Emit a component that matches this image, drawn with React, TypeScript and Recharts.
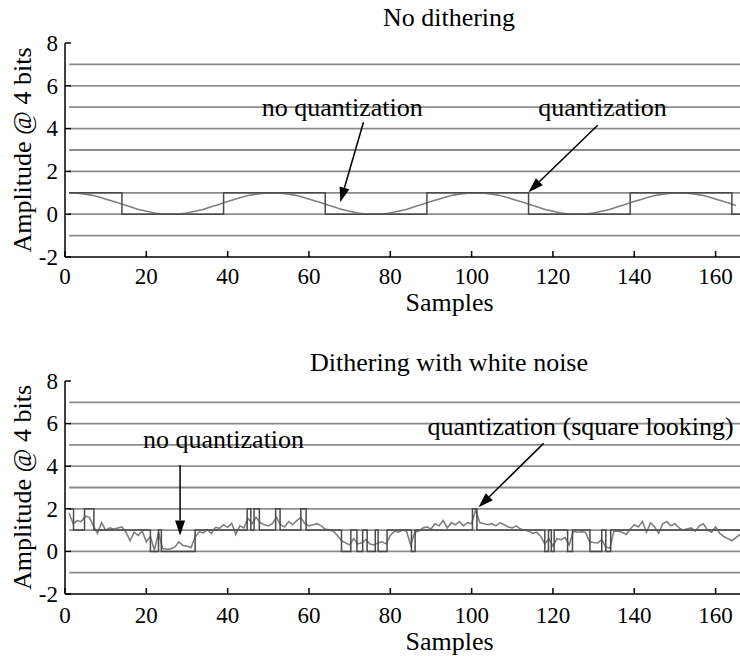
import { LineChart, Line, XAxis, YAxis, ReferenceLine, ReferenceDot } from 'recharts';

const xTicks = [0, 20, 40, 60, 80, 100, 120, 140, 160];
const yTicks = [-2, 0, 2, 4, 6, 8];
const levels = [-1, 0, 1, 2, 3, 4, 5, 6, 7];

// clean input, read every 2nd sample starting at sample 1
const cleanStart = 1;
const cleanStep = 2;
const cleanSignal = [
  1.0, 0.98, 0.94, 0.87, 0.77, 0.65, 0.53, 0.41, 0.29, 0.18, 0.1, 0.03, 0.0, 0.0, 0.03, 0.1, 0.18, 0.29, 0.41, 0.53, 0.65, 0.77, 0.87, 0.94, 0.98,
  1.0, 0.98, 0.94, 0.87, 0.77, 0.65, 0.53, 0.41, 0.29, 0.18, 0.1, 0.03, 0.0, 0.0, 0.03, 0.1, 0.18, 0.29, 0.41, 0.53, 0.65, 0.77, 0.87, 0.94, 0.98,
  1.0, 0.98, 0.94, 0.87, 0.77, 0.65, 0.53, 0.41, 0.29, 0.18, 0.1, 0.03, 0.0, 0.0, 0.03, 0.1, 0.18, 0.29, 0.41, 0.53, 0.65, 0.77, 0.87, 0.94, 0.98,
  1.0, 0.98, 0.94, 0.87, 0.77, 0.65, 0.53, 0.41,
];

// quantized (no dither): sample where each level starts
const quantCleanX = [1, 14, 39, 64, 89, 114, 139, 164, 166];
const quantCleanY = [1, 0, 1, 0, 1, 0, 1, 0, 0];

// dithered input, one value per sample (1..166)
const ditheredSignal = [
  1.8, 1.3, 1.45, 1.4, 1.65, 1.6, 1.2, 0.85, 1.35, 1.0,
  1.1, 1.05, 1.1, 1.15, 0.9, 0.5, 0.9, 0.75, 0.95, 0.45,
  0.7, 0.05, 0.9, 0.13, 0.1, 0.12, 0.2, 0.45, 0.28, 0.24,
  0.18, 0.68, 0.92, 0.87, 1.03, 0.84, 1.13, 1.08, 1.25, 1.13,
  1.32, 0.8, 1.2, 1.1, 1.55, 1.3, 1.6, 1.35, 1.25, 1.2,
  1.3, 1.6, 1.25, 1.15, 1.4, 1.25, 1.45, 1.6, 1.3, 1.2,
  1.25, 1.3, 1.2, 1.05, 1.0, 0.95, 0.75, 0.5, 0.4, 0.3,
  0.6, 0.35, 0.4, 0.55, 0.35, 0.3, 0.4, 0.45, 0.35, 0.75,
  0.95, 0.9, 1.0, 0.95, 0.3, 0.9, 0.95, 1.1, 1.15, 1.05,
  1.3, 1.2, 1.45, 1.1, 1.35, 1.25, 1.4, 1.2, 1.35, 1.3,
  1.95, 1.35, 1.3, 1.25, 1.3, 1.2, 1.35, 1.25, 1.15, 1.1,
  1.2, 1.05, 1.0, 0.95, 0.85, 0.9, 0.7, 0.35, 0.6, 0.25,
  0.6, 0.55, 0.65, 0.3, 0.95, 0.9, 0.92, 0.9, 0.45, 0.42,
  0.4, 0.55, 0.2, 0.15, 0.95, 0.95, 0.9, 0.8, 1.05, 1.25,
  1.15, 1.4, 0.9, 1.35, 1.15, 0.85, 1.3, 1.4, 1.2, 1.3,
  1.1, 1.0, 1.05, 1.1, 0.95, 1.2, 1.3, 1.0, 0.9, 1.15,
  0.85, 0.7, 0.6, 0.5, 0.65, 0.8,
];

// quantized (dithered): sample where each level starts
const quantDitherX = [
  1, 2.1, 4.8, 7.1, 21.0, 23.0, 23.7, 32.0, 44.8, 45.7, 46.5, 47.8, 51.8, 52.9, 58.0, 59.3,
  68.0, 70.3, 71.8, 73.2, 74.3, 76.3, 77.0, 79.2, 85.2, 86.1, 100.2, 101.3,
  118.0, 118.9, 119.6, 120.3, 123.6, 124.8, 129.1, 132.0, 133.0, 134.2, 166,
];
const quantDitherY = [
  2, 1, 2, 1, 0, 1, 0, 1, 2, 1, 2, 1, 2, 1, 2, 1,
  0, 1, 0, 1, 0, 1, 0, 1, 0, 1, 2, 1,
  0, 1, 0, 1, 0, 1, 0, 1, 0, 1, 1,
];

const topNotes = [
  { text: 'no quantization', x: 68.2, y: 4.6, from: [73.4, 4.3], to: [67.7, 0.56] },
  { text: 'quantization', x: 132.2, y: 4.6, from: [131, 4.16], to: [114, 1.03] },
];
const bottomNotes = [
  { text: 'no quantization', x: 39.0, y: 4.84, from: [28.3, 4.04], to: [28.3, 0.75] },
  { text: 'quantization (square looking)', x: 126.8, y: 5.45, from: [117.7, 5.07], to: [101.7, 2.07] },
];

const cleanData = cleanSignal.map((v, i) => ({ x: cleanStart + i * cleanStep, y: v }));
const quantCleanData = quantCleanX.map((x, i) => ({ x, y: quantCleanY[i] }));
const ditherData = ditheredSignal.map((v, i) => ({ x: i + 1, y: v }));
const quantDitherData = quantDitherX.map((x, i) => ({ x, y: quantDitherY[i] }));

const FONT = '"Liberation Serif", "Times New Roman", serif';

const XTick = (p: any) => (
  <text x={p.x} y={p.y} dy="0.71em" textAnchor="middle" fontSize={23} fill="#000" fontFamily={FONT}>
    {p.payload.value}
  </text>
);

const YTick = (p: any) => (
  <text x={p.x} y={p.y} dy="0.34em" textAnchor="end" fontSize={23} fill="#000" fontFamily={FONT}>
    {p.payload.value}
  </text>
);

const xLabel = (offset: number) => (p: any) => {
  const vb = p.viewBox;
  return (
    <text x={vb.x + vb.width / 2 + 47} y={vb.y + vb.height - offset} textAnchor="middle" fontSize={26} fill="#000" fontFamily={FONT}>
      Samples
    </text>
  );
};

const yLabel = (p: any) => {
  const vb = p.viewBox;
  const cx = 22;
  const cy = vb.y + vb.height / 2;
  return (
    <text x={cx} y={cy} dy="0.34em" textAnchor="middle" fontSize={26} fill="#000" fontFamily={FONT} transform={`rotate(-90, ${cx}, ${cy})`}>
      Amplitude @ 4 bits
    </text>
  );
};

const Arrow = (props: any) => {
  const { x1, y1, x2, y2 } = props;
  const dx = x2 - x1;
  const dy = y2 - y1;
  const len = Math.hypot(dx, dy) || 1;
  const ux = dx / len;
  const uy = dy / len;
  const head = 15;
  const half = 5;
  const bx = x2 - ux * head;
  const by = y2 - uy * head;
  const pts = `${x2},${y2} ${bx - uy * half},${by + ux * half} ${bx + uy * half},${by - ux * half}`;
  return (
    <g>
      <line x1={x1} y1={y1} x2={bx} y2={by} stroke="#000" strokeWidth={1.5} />
      <polygon points={pts} fill="#000" />
    </g>
  );
};

const noteText = (text: string) => (p: any) => (
  <text x={p.cx} y={p.cy} textAnchor="middle" fontSize={26} fill="#000" fontFamily={FONT}>
    {text}
  </text>
);

interface PanelProps {
  top: number;
  height: number;
  plotTop: number;
  plotBottom: number;
  tickMargin: number;
  labelOffset: number;
  signal: { x: number; y: number }[];
  quant: { x: number; y: number }[];
  notes: typeof topNotes;
  smooth: boolean;
}

const Panel = ({ top, height, plotTop, plotBottom, tickMargin, labelOffset, signal, quant, notes, smooth }: PanelProps) => (
  <div style={{ position: 'absolute', left: 0, top }}>
    <LineChart width={740} height={height} margin={{ top: plotTop, right: 0, bottom: 0, left: 0 }}>
      <XAxis
        type="number"
        dataKey="x"
        domain={[0, 166]}
        ticks={xTicks}
        interval={0}
        allowDataOverflow
        height={height - plotBottom}
        tickSize={-6}
        tickMargin={tickMargin}
        stroke="#000"
        axisLine={{ stroke: '#000', strokeWidth: 1.5 }}
        tickLine={{ stroke: '#000', strokeWidth: 1.5 }}
        tick={XTick}
        label={xLabel(labelOffset)}
      />
      <YAxis
        type="number"
        domain={[-2, 8]}
        ticks={yTicks}
        interval={0}
        width={65}
        tickSize={-6}
        tickMargin={13}
        stroke="#000"
        axisLine={{ stroke: '#000', strokeWidth: 1.5 }}
        tickLine={{ stroke: '#000', strokeWidth: 1.5 }}
        tick={YTick}
        label={yLabel}
      />
      {levels.map((v) => (
        <ReferenceLine key={v} segment={[{ x: 1, y: v }, { x: 166, y: v }]} stroke="#8c8c8c" strokeWidth={1.8} />
      ))}
      <Line data={signal} dataKey="y" type={smooth ? 'monotone' : 'linear'} stroke="#7f7f7f" strokeWidth={1.6} dot={false} isAnimationActive={false} />
      <Line data={quant} dataKey="y" type="stepAfter" stroke="#4a4a4a" strokeWidth={1.5} dot={false} isAnimationActive={false} />
      {notes.map((n) => (
        <ReferenceLine key={n.text + 'a'} segment={[{ x: n.from[0], y: n.from[1] }, { x: n.to[0], y: n.to[1] }]} shape={Arrow} />
      ))}
      {notes.map((n) => (
        <ReferenceDot key={n.text + 't'} x={n.x} y={n.y} r={0} shape={noteText(n.text)} />
      ))}
    </LineChart>
  </div>
);

const titleStyle = (top: number): React.CSSProperties => ({
  position: 'absolute',
  top,
  left: 449,
  transform: 'translateX(-50%)',
  fontSize: 26,
  lineHeight: '26px',
  whiteSpace: 'nowrap',
  color: '#000',
});

export default function App() {
  return (
    <div style={{ position: 'absolute', left: 0, top: 0, width: 740, height: 656, background: '#fff', fontFamily: FONT, overflow: 'hidden' }}>
      <Panel
        top={0}
        height={322}
        plotTop={43}
        plotBottom={257}
        tickMargin={17}
        labelOffset={11}
        signal={cleanData}
        quant={quantCleanData}
        notes={topNotes}
        smooth
      />
      <Panel
        top={322}
        height={334}
        plotTop={59}
        plotBottom={272}
        tickMargin={19}
        labelOffset={6}
        signal={ditherData}
        quant={quantDitherData}
        notes={bottomNotes}
        smooth={false}
      />
      <div style={titleStyle(5)}>No dithering</div>
      <div style={titleStyle(350)}>Dithering with white noise</div>
    </div>
  );
}
